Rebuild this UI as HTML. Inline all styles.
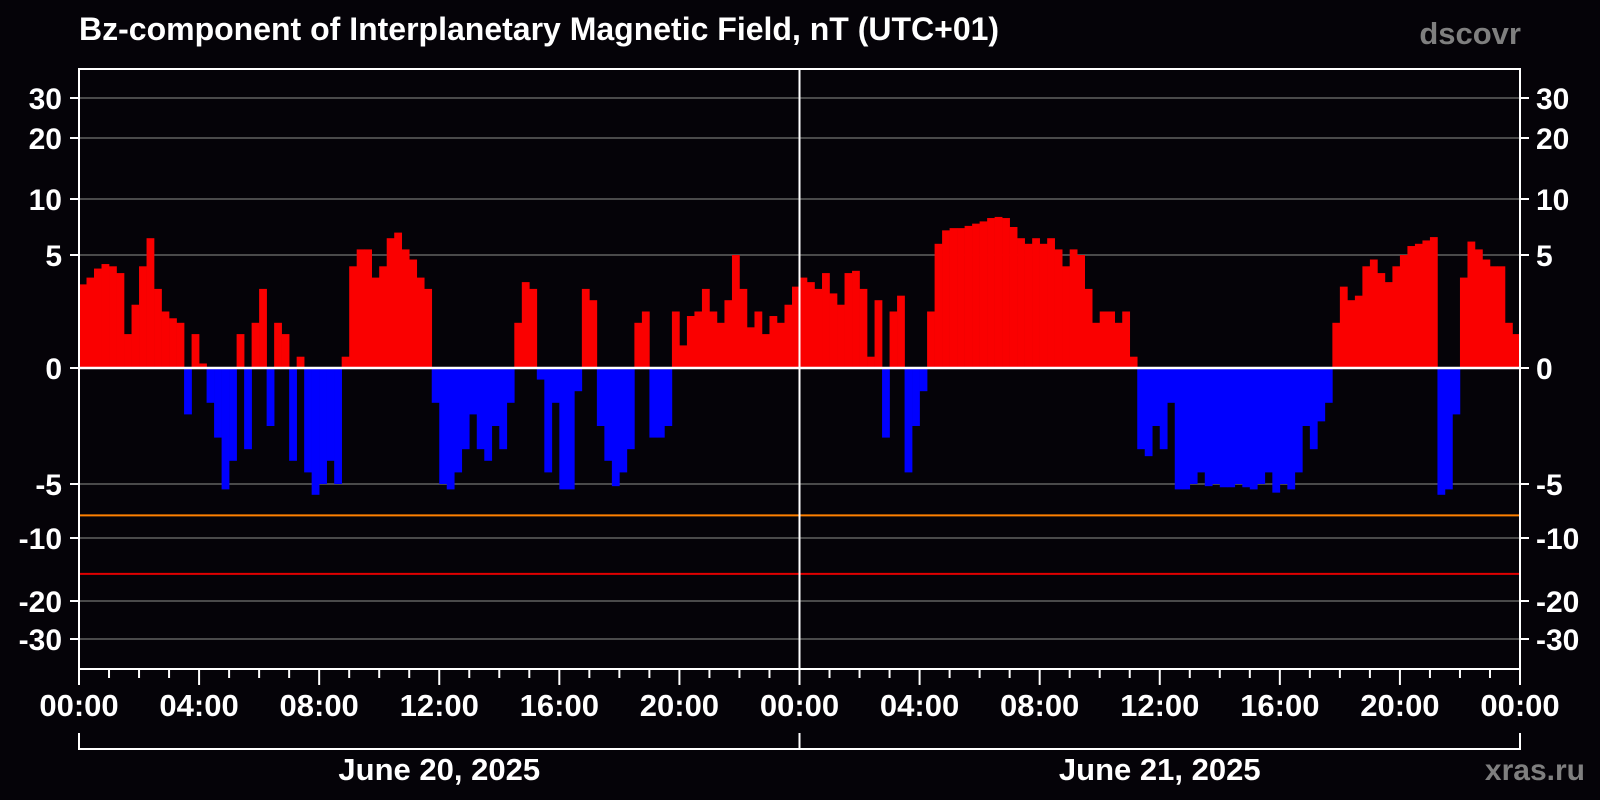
<!DOCTYPE html>
<html><head><meta charset="utf-8">
<style>
html,body{margin:0;padding:0;background:#050308;}
svg{display:block;}
text{font-family:"Liberation Sans",Arial,sans-serif;font-weight:bold;}
</style></head>
<body>
<svg id="chart" width="1600" height="800" viewBox="0 0 1600 800">
<rect x="0" y="0" width="1600" height="800" fill="#050308"/>
<text x="79" y="40" font-size="32" fill="#ffffff">Bz-component of Interplanetary Magnetic Field, nT (UTC+01)</text>
<text x="1521" y="44" font-size="31" fill="#7f7f7f" text-anchor="end">dscovr</text>
<text x="1585" y="780" font-size="30" fill="#7f7f7f" text-anchor="end">xras.ru</text>
<g id="grid"></g>
<g id="bars"></g>
<g id="frame"></g>
</svg>
<script>
const yTicks = [30, 20, 10, 5, 0, -5, -10, -20, -30];
const thresholds = [-7.9, -15.7];
const thresholdColors = ['#ff8000', '#e00000'];
const xTickLabels = ['00:00','04:00','08:00','12:00','16:00','20:00','00:00','04:00','08:00','12:00','16:00','20:00','00:00'];
const dayLabels = ['June 20, 2025', 'June 21, 2025'];
// Bz values, 15-minute bins, day 1 then day 2
const bzDay1 = [3.7,4.0,4.4,4.6,4.5,4.2,1.5,2.8,4.5,6.5,3.5,2.5,2.2,2.0,-2,1.5,
0.2,-1.5,-3,-5.5,-4,1.5,-3.5,2.0,3.5,-2.5,2.0,1.5,-4.0,0.5,-4.5,-6,
-5,-4.0,-5,0.5,4.5,5.5,5.5,4,4.5,6.5,7,5.5,4.8,4,3.5,-1.5,
-5,-5.5,-4.5,-3.5,-2,-3.5,-4,-2.5,-3.5,-1.5,2,3.8,3.5,-0.5,-4.5,-1.5,
-5.5,-5.5,-1,3.5,3,-2.5,-4,-5.2,-4.5,-3.5,2,2.5,-3,-3,-2.5,2.5,
1.0,2.3,2.5,3.5,2.5,2.0,3.0,5.0,3.5,1.8,2.5,1.5,2.3,2.0,2.8,3.6];
const bzDay2 = [4.0,3.8,3.5,4.2,3.3,2.8,4.2,4.3,3.5,0.5,3.0,-3,2.5,3.2,-4.5,-2.5,
-1,2.5,6.0,7.2,7.4,7.4,7.6,7.8,8.0,8.3,8.4,8.3,7.5,6.5,6.0,6.5,
6.0,6.5,5.5,4.5,5.5,5.0,3.5,2.0,2.5,2.5,2.0,2.5,0.5,-3.5,-3.8,-2.5,
-3.5,-1.5,-5.5,-5.5,-5,-4.5,-5.2,-5.0,-5.3,-5.3,-5.0,-5.3,-5.5,-5.0,-4.5,-5.8,
-5.0,-5.5,-4.5,-2.5,-3.5,-2.3,-1.5,2.0,3.6,3.0,3.2,4.5,4.8,4.2,3.8,4.5,
5.0,5.8,6.0,6.3,6.6,-6.0,-5.5,-2.0,4.0,6.2,5.5,4.8,4.5,4.5,2.0,1.5];

const NS = 'http://www.w3.org/2000/svg';
const X0 = 79, X1 = 1520, YT = 69, YB = 669, HOURS = 48;
const knotsV = [-30,-20,-10,-5,0,5,10,20,30];
const knotsY = [639,601,538,484,368,255,199,138,98];
function yScale(v){
  if (v <= knotsV[0]) return knotsY[0];
  for (let i=0;i<knotsV.length-1;i++){
    if (v <= knotsV[i+1]){
      const t=(v-knotsV[i])/(knotsV[i+1]-knotsV[i]);
      return knotsY[i]+t*(knotsY[i+1]-knotsY[i]);
    }
  }
  return knotsY[knotsY.length-1];
}
function xScale(h){ return X0 + h*(X1-X0)/HOURS; }
function mk(tag, attrs, parent){
  const e=document.createElementNS(NS,tag);
  for (const k in attrs) e.setAttribute(k, attrs[k]);
  parent.appendChild(e); return e;
}
const grid=document.getElementById('grid');
const bars=document.getElementById('bars');
const frame=document.getElementById('frame');

yTicks.forEach(v=>{
  const y=yScale(v);
  if (v!==0){
    const g=mk('line',{x1:X0,x2:X1,y1:y,y2:y,stroke:'#4a4a4a','stroke-width':2},grid);
    
    
  }
  const tl=mk('line',{x1:X0-9,x2:X0,y1:y,y2:y,stroke:'#fff','stroke-width':2},frame);
  
  
  const tr=mk('line',{x1:X1,x2:X1+9,y1:y,y2:y,stroke:'#fff','stroke-width':2},frame);
  
  
  const l=mk('text',{x:62,y:y+11,'font-size':30,fill:'#fff','text-anchor':'end'},frame);
  l.textContent=String(v);
  
  
  const r=mk('text',{x:1536,y:y+11,'font-size':30,fill:'#fff'},frame);
  r.textContent=String(v);
  
  
});

const data=bzDay1.concat(bzDay2);
const step=HOURS/data.length;
const y0=yScale(0);
data.forEach((v,i)=>{
  const xa=xScale(i*step), xb=xScale((i+1)*step);
  const y=yScale(v);
  const b=mk('rect',{x:xa,y:Math.min(y,y0),width:xb-xa+0.3,height:Math.abs(y-y0),fill:v>=0?'#fa0000':'#0000ff'},bars);
  
  
});

thresholds.forEach((t,i)=>{
  const y=yScale(t);
  const l=mk('line',{x1:X0,x2:X1,y1:y,y2:y,stroke:thresholdColors[i],'stroke-width':2},frame);
  
  
});
const z=mk('line',{x1:X0,x2:X1,y1:y0,y2:y0,stroke:'#fff','stroke-width':2.5},frame);


const mid=mk('line',{x1:xScale(24),x2:xScale(24),y1:YT,y2:YB,stroke:'#fff','stroke-width':2},frame);


const box=mk('rect',{x:X0,y:YT,width:X1-X0,height:YB-YT,fill:'none',stroke:'#fff','stroke-width':2},frame);



for (let h=0;h<=HOURS;h++){
  const x=xScale(h);
  const major=h%4===0;
  const t=mk('line',{x1:x,x2:x,y1:YB,y2:YB+(major?16:9),stroke:'#fff','stroke-width':2},frame);
  
  
}
xTickLabels.forEach((s,i)=>{
  const t=mk('text',{x:xScale(i*4),y:716,'font-size':31,fill:'#fff','text-anchor':'middle'},frame);
  t.textContent=s;
  
  
});
const br=mk('line',{x1:X0,x2:X1,y1:749,y2:749,stroke:'#fff','stroke-width':2},frame);


[0,24,48].forEach(h=>{
  const t=mk('line',{x1:xScale(h),x2:xScale(h),y1:733,y2:750,stroke:'#fff','stroke-width':2},frame);
  
  
});
dayLabels.forEach((s,i)=>{
  const t=mk('text',{x:xScale(12+24*i),y:780,'font-size':31,fill:'#fff','text-anchor':'middle'},frame);
  t.textContent=s;
  
  
});
</script>
</body></html>
